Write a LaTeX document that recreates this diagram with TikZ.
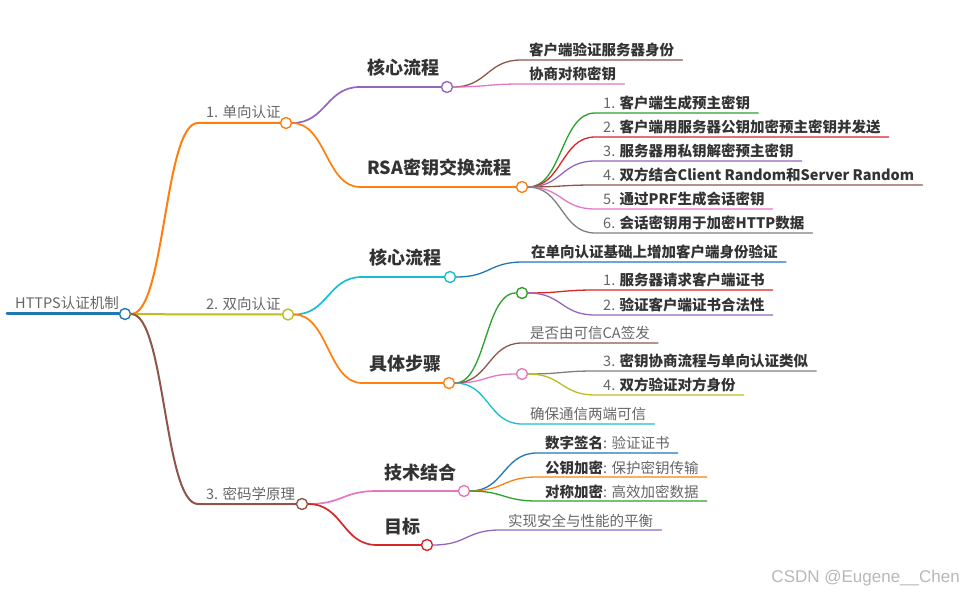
\documentclass[tikz,border=0pt]{standalone}
\usepackage{fontspec}
\setmainfont{Noto Sans CJK SC}
\newfontfamily\wmfont{Liberation Sans}
\usepackage{tikz}
\definecolor{cblue}{HTML}{1F77B4}
\definecolor{corange}{HTML}{FF7F0E}
\definecolor{cgreen}{HTML}{2CA02C}
\definecolor{cred}{HTML}{D62728}
\definecolor{cpurple}{HTML}{9467BD}
\definecolor{cbrown}{HTML}{8C564B}
\definecolor{cpink}{HTML}{E377C2}
\definecolor{cgrey}{HTML}{7F7F7F}
\definecolor{colive}{HTML}{BCBD22}
\definecolor{ccyan}{HTML}{17BECF}
\definecolor{txt}{HTML}{333333}
\definecolor{txtlt}{HTML}{666666}

\begin{document}
\begin{tikzpicture}[x=1pt, y=-1pt, line cap=round, line join=round,
  dot/.style={circle, draw, fill=white, line width=1.4pt, minimum size=11pt, inner sep=0pt},
  lvA/.style={anchor=base west, inner xsep=8pt, yshift=5pt, text=txtlt, font=\fontsize{14.5}{17}\selectfont},
  lvB/.style={anchor=base west, inner xsep=7pt, yshift=12pt, text=txt, font=\fontsize{18}{21}\selectfont\bfseries},
  leaf/.style={anchor=base west, inner xsep=8pt, yshift=4pt, text=txt, font=\fontsize{14.5}{17}\selectfont},
  eA/.style={line width=2pt},
  eB/.style={line width=1.7pt},
  eC/.style={line width=1.3pt}]
  \useasboundingbox (0,0) rectangle (964,593);

  % root
  \coordinate (r0) at (7,314);
  \node[dot, draw=cblue] (root) at (125,314) {};
  \draw[cblue, line width=3pt] (r0) -- (root.west);
  \node[lvA] (rootl) at (r0) {HTTPS认证机制};

  % first level
  \coordinate (u1s) at (198,123);
  \coordinate (u2s) at (198,314.5);
  \coordinate (u3s) at (198,504);
  \node[dot, draw=corange] (u1) at (286,123) {};
  \node[dot, draw=colive]  (u2) at (288,314.5) {};
  \node[dot, draw=cbrown]  (u3) at (302,504) {};
  \draw[eA, corange] (root.east) .. controls +(34,0) and +(-34,0) .. (u1s) -- (u1.west);
  \draw[eA, colive]  (root.east) -- (u2s) -- (u2.west);
  \draw[eA, cbrown]  (root.east) .. controls +(34,0) and +(-34,0) .. (u3s) -- (u3.west);
  \node[lvA] (u1l) at (u1s) {1. 单向认证};
  \node[lvA] (u2l) at (u2s) {2. 双向认证};
  \node[lvA] (u3l) at (u3s) {3. 密码学原理};

  % second level
  \coordinate (a1s) at (360,87);
  \coordinate (a2s) at (360,187);
  \coordinate (b1s) at (362,277);
  \coordinate (b2s) at (362,383);
  \coordinate (c1s) at (377,491);
  \coordinate (c2s) at (377,545);
  \node[dot, draw=cpurple] (a1) at (447,87) {};
  \node[dot, draw=corange] (a2) at (522,187) {};
  \node[dot, draw=ccyan]   (b1) at (450,277) {};
  \node[dot, draw=corange] (b2) at (449,383) {};
  \node[dot, draw=cpink]   (c1) at (464,491) {};
  \node[dot, draw=cred]    (c2) at (427,545) {};
  \draw[eB, cpurple] (u1.east) .. controls +(34,0) and +(-34,0) .. (a1s) -- (a1.west);
  \draw[eB, corange] (u1.east) .. controls +(34,0) and +(-34,0) .. (a2s) -- (a2.west);
  \draw[eB, ccyan]   (u2.east) .. controls +(34,0) and +(-34,0) .. (b1s) -- (b1.west);
  \draw[eB, corange] (u2.east) .. controls +(34,0) and +(-34,0) .. (b2s) -- (b2.west);
  \draw[eB, cpink]   (u3.east) .. controls +(35,0) and +(-35,0) .. (c1s) -- (c1.west);
  \draw[eB, cred]    (u3.east) .. controls +(35,0) and +(-35,0) .. (c2s) -- (c2.west);
  \node[lvB] (a1l) at (a1s) {核心流程};
  \node[lvB] (a2l) at (a2s) {RSA密钥交换流程};
  \node[lvB] (b1l) at (b1s) {核心流程};
  \node[lvB] (b2l) at (b2s) {具体步骤};
  \node[lvB] (c1l) at (c1s) {技术结合};
  \node[lvB] (c2l) at (c2s) {目标};

  % leaves of 核心流程 (one way)
  \foreach \n/\y/\c/\t in {1/60/cbrown/客户端验证服务器身份, 2/84/cpink/协商对称密钥}{
    \coordinate (as\n) at (521,\y);
    \node[leaf] (al\n) at (as\n) {\textbf{\t}};
    \draw[eC, \c] (a1.east) .. controls +(34,0) and +(-34,0) .. (as\n) -- (as\n -| al\n.east);
  }

  % RSA steps
  \foreach \n/\y/\c/\t in {1/113/cgreen/客户端生成预主密钥,
      2/137/cred/客户端用服务器公钥加密预主密钥并发送,
      3/161/cpurple/服务器用私钥解密预主密钥,
      4/185/cbrown/双方结合Client Random和Server Random,
      5/209/cpink/通过PRF生成会话密钥,
      6/233/cgrey/会话密钥用于加密HTTP数据}{
    \coordinate (rs\n) at (595,\y);
    \node[leaf] (rl\n) at (rs\n) {\textcolor{txtlt}{\n.} \textbf{\t}};
    \draw[eC, \c] (a2.east) .. controls +(34,0) and +(-34,0) .. (rs\n) -- (rs\n -| rl\n.east);
  }

  % leaf of 核心流程 (two way)
  \coordinate (bs1) at (523,262);
  \node[leaf] (bl1) at (bs1) {\textbf{在单向认证基础上增加客户端身份验证}};
  \draw[eC, cblue] (b1.east) .. controls +(34,0) and +(-34,0) .. (bs1) -- (bs1 -| bl1.east);

  % 具体步骤
  \node[dot, draw=cgreen] (d1) at (522,293) {};
  \node[dot, draw=cpink]  (d2) at (522,374) {};
  \draw[eC, cgreen] (b2.east) .. controls +(31,0) and +(-31,0) .. (d1.west);
  \draw[eC, cpink]  (b2.east) .. controls +(31,0) and +(-31,0) .. (d2.west);
  \coordinate (ks1) at (522,343);
  \coordinate (ks2) at (522,424);
  \node[leaf, text=txtlt] (kl1) at (ks1) {是否由可信CA签发};
  \node[leaf, text=txtlt] (kl2) at (ks2) {确保通信两端可信};
  \draw[eC, cbrown] (b2.east) .. controls +(34,0) and +(-34,0) .. (ks1) -- (ks1 -| kl1.east);
  \draw[eC, ccyan]  (b2.east) .. controls +(34,0) and +(-34,0) .. (ks2) -- (ks2 -| kl2.east);

  \foreach \p/\n/\y/\c/\t in {d1/1/290/cred/服务器请求客户端证书,
      d1/2/315/cpurple/验证客户端证书合法性,
      d2/3/371/cgrey/密钥协商流程与单向认证类似,
      d2/4/395/colive/双方验证对方身份}{
    \coordinate (ds\n) at (595,\y);
    \node[leaf] (dl\n) at (ds\n) {\textcolor{txtlt}{\n.} \textbf{\t}};
    \draw[eC, \c] (\p.east) .. controls +(34,0) and +(-34,0) .. (ds\n) -- (ds\n -| dl\n.east);
  }

  % 技术结合
  \foreach \n/\y/\c/\h/\t in {1/453/cblue/数字签名/验证证书,
      2/477/corange/公钥加密/保护密钥传输,
      3/501/cgreen/对称加密/高效加密数据}{
    \coordinate (ts\n) at (537,\y);
    \node[leaf] (tl\n) at (ts\n) {\textbf{\h}\textcolor{txtlt}{: \t}};
    \draw[eC, \c] (c1.east) .. controls +(34,0) and +(-34,0) .. (ts\n) -- (ts\n -| tl\n.east);
  }

  % 目标
  \coordinate (gs1) at (500,530);
  \node[leaf, text=txtlt] (gl1) at (gs1) {实现安全与性能的平衡};
  \draw[eC, cpurple] (c2.east) .. controls +(34,0) and +(-34,0) .. (gs1) -- (gs1 -| gl1.east);

  % watermark
  \node[anchor=base east, inner sep=0pt, text=black!28, font=\wmfont\fontsize{17}{20}\selectfont] (wm) at (960,582) {CSDN @Eugene\_\_Chen};
\end{tikzpicture}
\end{document}
